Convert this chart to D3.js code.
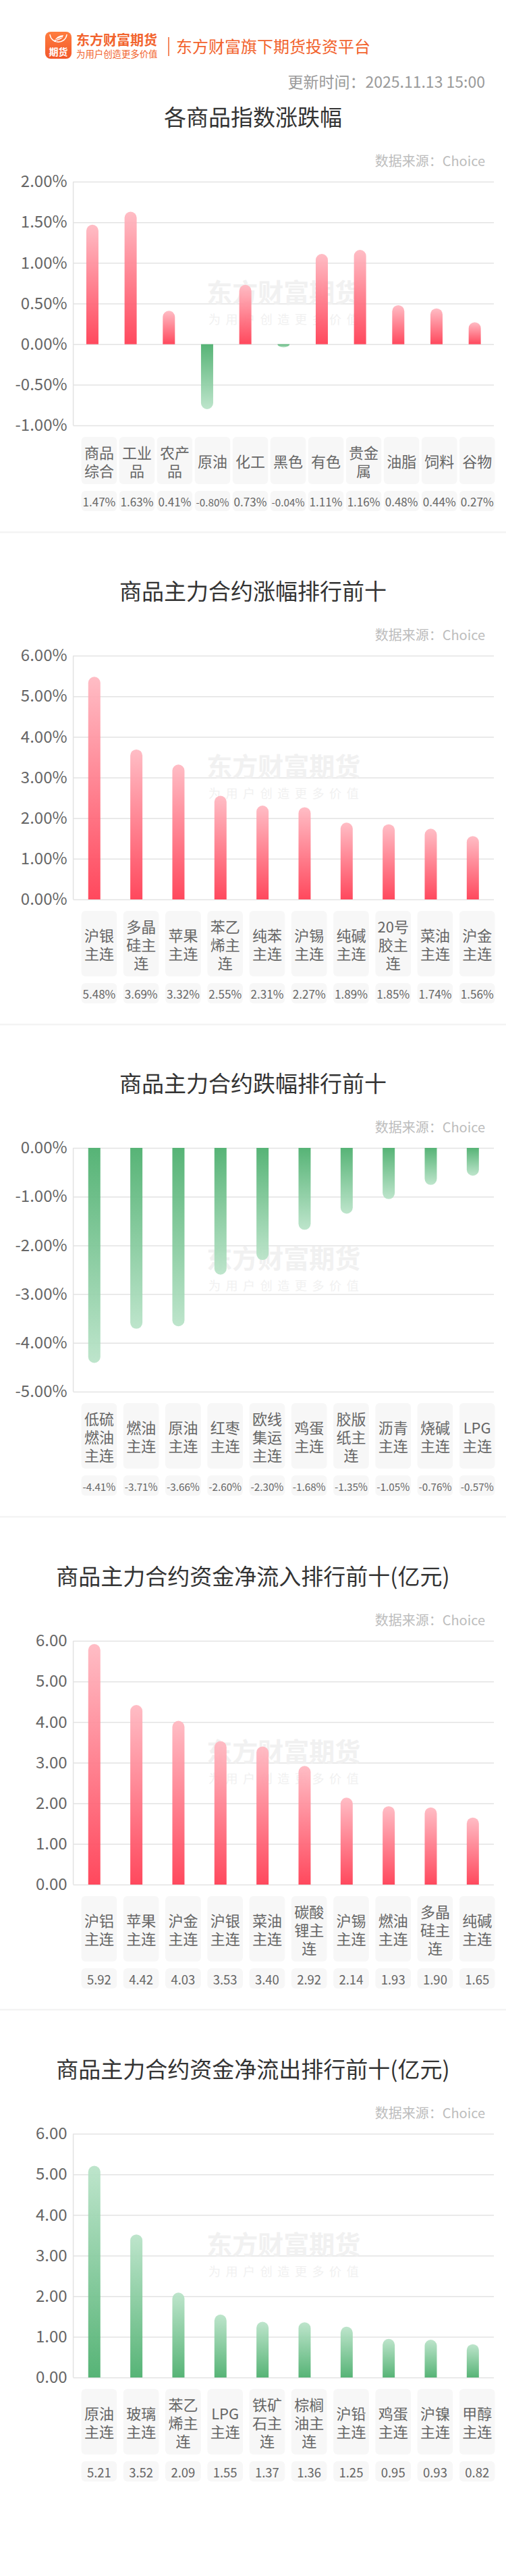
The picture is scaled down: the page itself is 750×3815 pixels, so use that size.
<!DOCTYPE html>
<html><head><meta charset="utf-8">
<script src="https://cdn.jsdelivr.net/npm/d3@7"></script>
<style>
body{margin:0;background:#fff;}
svg{display:block;}
text{font-family:"Noto Sans CJK SC","Noto Sans",sans-serif;}
</style>
</head><body>
<svg id="c" width="750" height="3815"></svg>
<script>
// ---------------- data ----------------
const brandName = "东方财富期货";
const brandSlogan = "为用户创造更多价值";
const platformText = "东方财富旗下期货投资平台";
const updateTime = "更新时间：2025.11.13 15:00";
const sourceText = "数据来源：Choice";

const title1 = "各商品指数涨跌幅";
const cats1 = ["商品综合","工业品","农产品","原油","化工","黑色","有色","贵金属","油脂","饲料","谷物"];
const vals1 = [1.47,1.63,0.41,-0.80,0.73,-0.04,1.11,1.16,0.48,0.44,0.27];
const ticks1 = [-1.0,-0.5,0,0.5,1.0,1.5,2.0];

const title2 = "商品主力合约涨幅排行前十";
const cats2 = ["沪银主连","多晶硅主连","苹果主连","苯乙烯主连","纯苯主连","沪锡主连","纯碱主连","20号胶主连","菜油主连","沪金主连"];
const vals2 = [5.48,3.69,3.32,2.55,2.31,2.27,1.89,1.85,1.74,1.56];
const ticks2 = [0,1,2,3,4,5,6];

const title3 = "商品主力合约跌幅排行前十";
const cats3 = ["低硫燃油主连","燃油主连","原油主连","红枣主连","欧线集运主连","鸡蛋主连","胶版纸主连","沥青主连","烧碱主连","LPG主连"];
const vals3 = [-4.41,-3.71,-3.66,-2.60,-2.30,-1.68,-1.35,-1.05,-0.76,-0.57];
const ticks3 = [-5,-4,-3,-2,-1,0];

const title4 = "商品主力合约资金净流入排行前十(亿元)";
const cats4 = ["沪铝主连","苹果主连","沪金主连","沪银主连","菜油主连","碳酸锂主连","沪锡主连","燃油主连","多晶硅主连","纯碱主连"];
const vals4 = [5.92,4.42,4.03,3.53,3.40,2.92,2.14,1.93,1.90,1.65];
const ticks4 = [0,1,2,3,4,5,6];

const title5 = "商品主力合约资金净流出排行前十(亿元)";
const cats5 = ["原油主连","玻璃主连","苯乙烯主连","LPG主连","铁矿石主连","棕榈油主连","沪铅主连","鸡蛋主连","沪镍主连","甲醇主连"];
const vals5 = [5.21,3.52,2.09,1.55,1.37,1.36,1.25,0.95,0.93,0.82];
const ticks5 = [0,1,2,3,4,5,6];

// ---------------- layout ----------------
const pct = d => d.toFixed(2) + "%";
const num = d => d.toFixed(2);
const charts = [
  {title:title1, cats:cats1, vals:vals1, ticks:ticks1, fmt:pct, top:269, palette:"sign", sep:true},
  {title:title2, cats:cats2, vals:vals2, ticks:ticks2, fmt:pct, top:971, palette:"sign", sep:true},
  {title:title3, cats:cats3, vals:vals3, ticks:ticks3, fmt:pct, top:1700, palette:"sign", sep:true},
  {title:title4, cats:cats4, vals:vals4, ticks:ticks4, fmt:num, top:2430, palette:"sign", sep:true},
  {title:title5, cats:cats5, vals:vals5, ticks:ticks5, fmt:num, top:3160, palette:"green", sep:false}
];

const W = 750, plotL = 108.6, plotR = 732, plotH = 361;
const boxL = 120.6, boxR = 733.5, boxW = 52.6;
const BAR_W = 18;
const RED_BASE = "#ff3b51", RED_TIP = "#ffb8c1";
const GRN_BASE = "#4aae6c", GRN_TIP = "#b9e3c8";
const ORANGE = "#f2632d";

const svg = d3.select("#c");
const defs = svg.append("defs");

function grad(id, topColor, bottomColor){
  const g = defs.append("linearGradient").attr("id", id)
    .attr("x1",0).attr("y1",0).attr("x2",0).attr("y2",1);
  g.append("stop").attr("offset","0%").attr("stop-color", topColor);
  g.append("stop").attr("offset","100%").attr("stop-color", bottomColor);
}
grad("redUp", RED_TIP, RED_BASE);
grad("redDown", RED_BASE, RED_TIP);
grad("grnUp", GRN_TIP, GRN_BASE);
grad("grnDown", GRN_BASE, GRN_TIP);
const lg = defs.append("linearGradient").attr("id","logoG").attr("x1",0).attr("y1",0).attr("x2",0).attr("y2",1);
lg.append("stop").attr("offset","0%").attr("stop-color","#ff7d3f");
lg.append("stop").attr("offset","100%").attr("stop-color","#f2582a");

// ---------------- header ----------------
const hdr = svg.append("g");
const logo = hdr.append("g").attr("transform","translate(67,47)");
logo.append("rect").attr("width",39).attr("height",40).attr("rx",8).attr("fill","url(#logoG)");
logo.append("path").attr("d","M7,4 C9,19 30,19 32,4").attr("fill","none").attr("stroke","#fff").attr("stroke-width",1.6);
logo.append("path").attr("d","M13,15 Q17,5 27,5 Q25,13 13,15Z").attr("fill","#fff");
logo.append("path").attr("d","M15,12 L25,8 M16,14 L24,11").attr("stroke","url(#logoG)").attr("stroke-width",1);
logo.append("text").attr("x",19.5).attr("y",34.5).attr("text-anchor","middle")
  .attr("font-size",14).attr("font-weight",700).attr("fill","#fff").text("期货");
hdr.append("text").attr("x",113).attr("y",67).attr("font-size",20).attr("font-weight",700)
  .attr("fill",ORANGE).text(brandName);
hdr.append("text").attr("x",113).attr("y",85).attr("font-size",13.4)
  .attr("fill",ORANGE).text(brandSlogan);
hdr.append("line").attr("x1",250).attr("x2",250).attr("y1",55).attr("y2",83)
  .attr("stroke",ORANGE).attr("stroke-width",1.5);
hdr.append("text").attr("x",261).attr("y",77.5).attr("font-size",24)
  .attr("fill",ORANGE).text(platformText);
hdr.append("text").attr("x",719).attr("y",120).attr("dominant-baseline","central")
  .attr("text-anchor","end").attr("font-size",23).attr("fill","#9a9a9a").text(updateTime);

// measuring helper
const meas = svg.append("text").attr("x",-1000).attr("y",-1000);
function textW(s, size){
  meas.attr("font-size", size).text(s);
  return meas.node().getComputedTextLength();
}
function wrap(s, size, maxW){
  const lines = []; let cur = "";
  for (const ch of Array.from(s)) {
    if (cur && textW(cur + ch, size) > maxW) { lines.push(cur); cur = ch; }
    else cur += ch;
  }
  if (cur) lines.push(cur);
  return lines;
}

// ---------------- charts ----------------
charts.forEach((c, ci) => {
  const g = svg.append("g");
  const top = c.top, bottom = top + plotH;
  const y = d3.scaleLinear().domain(d3.extent(c.ticks)).range([bottom, top]);
  const x = d3.scaleBand().domain(c.cats).range([plotL, plotR]);
  const xb = d3.scalePoint().domain(c.cats).range([boxL + boxW/2, boxR - boxW/2]);

  // title & source
  g.append("text").attr("x", W/2).attr("y", top - 97).attr("text-anchor","middle")
    .attr("dominant-baseline","central").attr("font-size",33).attr("fill","#333").text(c.title);
  g.append("text").attr("x", 719).attr("y", top - 32).attr("text-anchor","end")
    .attr("dominant-baseline","central").attr("font-size",20).attr("fill","#bdbdbd").text(sourceText);

  // gridlines
  const grid = g.append("g").attr("transform",`translate(${plotL},0)`)
    .call(d3.axisLeft(y).tickValues(c.ticks).tickSize(-(plotR - plotL)).tickFormat(""));
  grid.select(".domain").remove();
  grid.selectAll("line").attr("stroke","#e3e3e3").attr("stroke-width",1.5);
  g.append("line").attr("x1",plotL).attr("x2",plotL).attr("y1",top).attr("y2",bottom)
    .attr("stroke","#e3e3e3").attr("stroke-width",1.5);

  // tick labels
  const ax = g.append("g").attr("transform",`translate(${plotL},0)`)
    .call(d3.axisLeft(y).tickValues(c.ticks).tickSize(0).tickPadding(9).tickFormat(c.fmt));
  ax.select(".domain").remove();
  ax.selectAll("text").attr("font-size",24).attr("fill","#666")
    .attr("font-family",'"Noto Sans CJK SC","Noto Sans",sans-serif');

  // watermark
  const wmx = (plotL + plotR)/2;
  g.append("text").attr("x", wmx).attr("y", top + 161).attr("text-anchor","middle")
    .attr("dominant-baseline","central").attr("font-size",38).attr("font-weight",700)
    .attr("fill","#f1f1f1").text(brandName);
  g.append("text").attr("x", wmx + 3.8).attr("y", top + 203).attr("text-anchor","middle")
    .attr("dominant-baseline","central").attr("font-size",18).attr("letter-spacing",7.6)
    .attr("fill","#f1f1f1").text(brandSlogan);

  // bars
  const y0 = y(0);
  g.append("g").selectAll("path").data(c.cats.map((k,i)=>({k, v:c.vals[i]}))).join("path")
    .attr("d", d => {
      const cx = x(d.k) + x.bandwidth()/2, x0 = cx - BAR_W/2, x1 = cx + BAR_W/2;
      const tip = y(d.v), len = Math.abs(tip - y0), r = BAR_W/2, ry = Math.min(r, len);
      if (d.v >= 0) return `M${x0},${y0}V${tip+ry}A${r},${ry} 0 0 1 ${x1},${tip+ry}V${y0}Z`;
      return `M${x0},${y0}V${tip-ry}A${r},${ry} 0 0 0 ${x1},${tip-ry}V${y0}Z`;
    })
    .attr("fill", d => {
      const green = c.palette === "green" || d.v < 0;
      if (green) return d.v >= 0 ? "url(#grnUp)" : "url(#grnDown)";
      return d.v >= 0 ? "url(#redUp)" : "url(#redDown)";
    })
    .attr("opacity", 0.93);

  // category boxes
  const LABEL_FS = 22, LH = 27;
  const wrapped = c.cats.map(k => wrap(k, LABEL_FS, 47));
  const maxLines = d3.max(wrapped, l => l.length);
  const boxTop = bottom + 17, boxH = maxLines * LH + 16;
  const cb = g.append("g");
  c.cats.forEach((k, i) => {
    const cx = xb(k);
    cb.append("rect").attr("x", cx - boxW/2).attr("y", boxTop).attr("width", boxW)
      .attr("height", boxH).attr("rx", 6).attr("fill","#f7f7f7");
    const lines = wrapped[i];
    const mid = boxTop + boxH/2;
    const t = cb.append("text").attr("text-anchor","middle").attr("font-size",LABEL_FS).attr("fill","#666");
    lines.forEach((ln, j) => {
      t.append("tspan").attr("x", cx).attr("y", mid + (j - (lines.length-1)/2) * LH)
        .attr("dominant-baseline","central").text(ln);
    });
  });

  // value boxes
  const vTop = boxTop + boxH + 10, vH = 30;
  c.cats.forEach((k, i) => {
    const cx = xb(k);
    cb.append("rect").attr("x", cx - boxW/2).attr("y", vTop).attr("width", boxW)
      .attr("height", vH).attr("rx", 6).attr("fill","#f7f7f7");
    const s = c.fmt(c.vals[i]);
    let fs = 18.5;
    const w = textW(s, fs);
    if (w > 49) fs = fs * 49 / w;
    cb.append("text").attr("x", cx).attr("y", vTop + vH/2 + 0.5).attr("text-anchor","middle")
      .attr("dominant-baseline","central").attr("font-size", fs).attr("fill","#666").text(s);
  });

  if (c.sep) {
    g.append("rect").attr("x",0).attr("width",W).attr("y", vTop + vH + 30).attr("height",2.5)
      .attr("fill","#f4f4f4");
  }
});
meas.remove();
</script>
</body></html>
